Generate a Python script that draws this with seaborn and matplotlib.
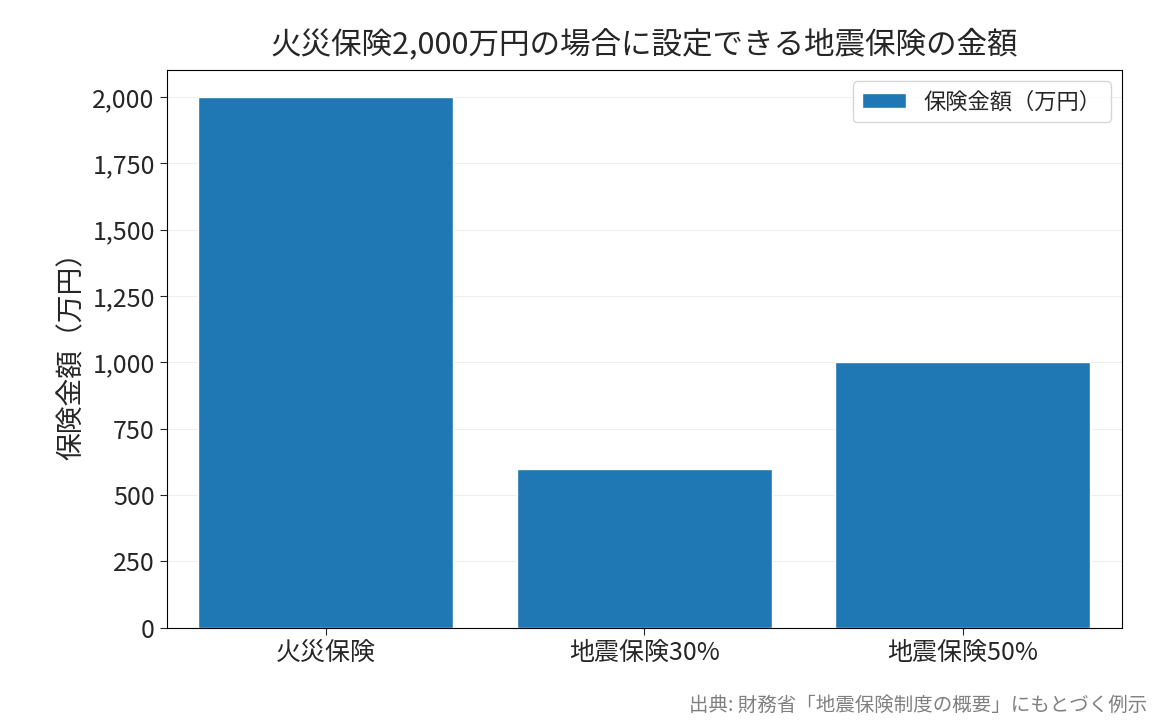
import matplotlib
matplotlib.use('Agg')
import matplotlib.pyplot as plt
import seaborn as sns
from matplotlib.ticker import FuncFormatter

categories = ['火災保険', '地震保険30%', '地震保険50%']
amounts = [2000, 600, 1000]

sns.set_style('white')
plt.rcParams['font.family'] = ['Noto Sans CJK JP', 'DejaVu Sans']

fig, ax = plt.subplots(figsize=(11.65, 7.25), dpi=100)
sns.barplot(x=categories, y=amounts, color='#1f77b4', saturation=1, width=0.8,
            label='保険金額（万円）', ax=ax)
ax.set_ylim(0, 2100)
ax.yaxis.set_major_formatter(FuncFormatter(lambda v, p: f'{int(v):,}'))
ax.grid(axis='y', alpha=0.3)
ax.set_axisbelow(True)
for s in ax.spines.values():
    s.set_color('black')
ax.tick_params(axis='both', labelsize=18, left=True, bottom=True, length=5)
ax.set_ylabel('保険金額（万円）', fontsize=20)
ax.set_title('火災保険2,000万円の場合に設定できる地震保険の金額', fontsize=22, pad=12)
ax.legend(loc='upper right', fontsize=16)
fig.text(0.985, 0.02, '出典: 財務省「地震保険制度の概要」にもとづく例示', ha='right',
         fontsize=14, color='gray')
fig.subplots_adjust(left=0.143, right=0.963, top=0.903, bottom=0.134)
fig.savefig('out.png', dpi=100)
